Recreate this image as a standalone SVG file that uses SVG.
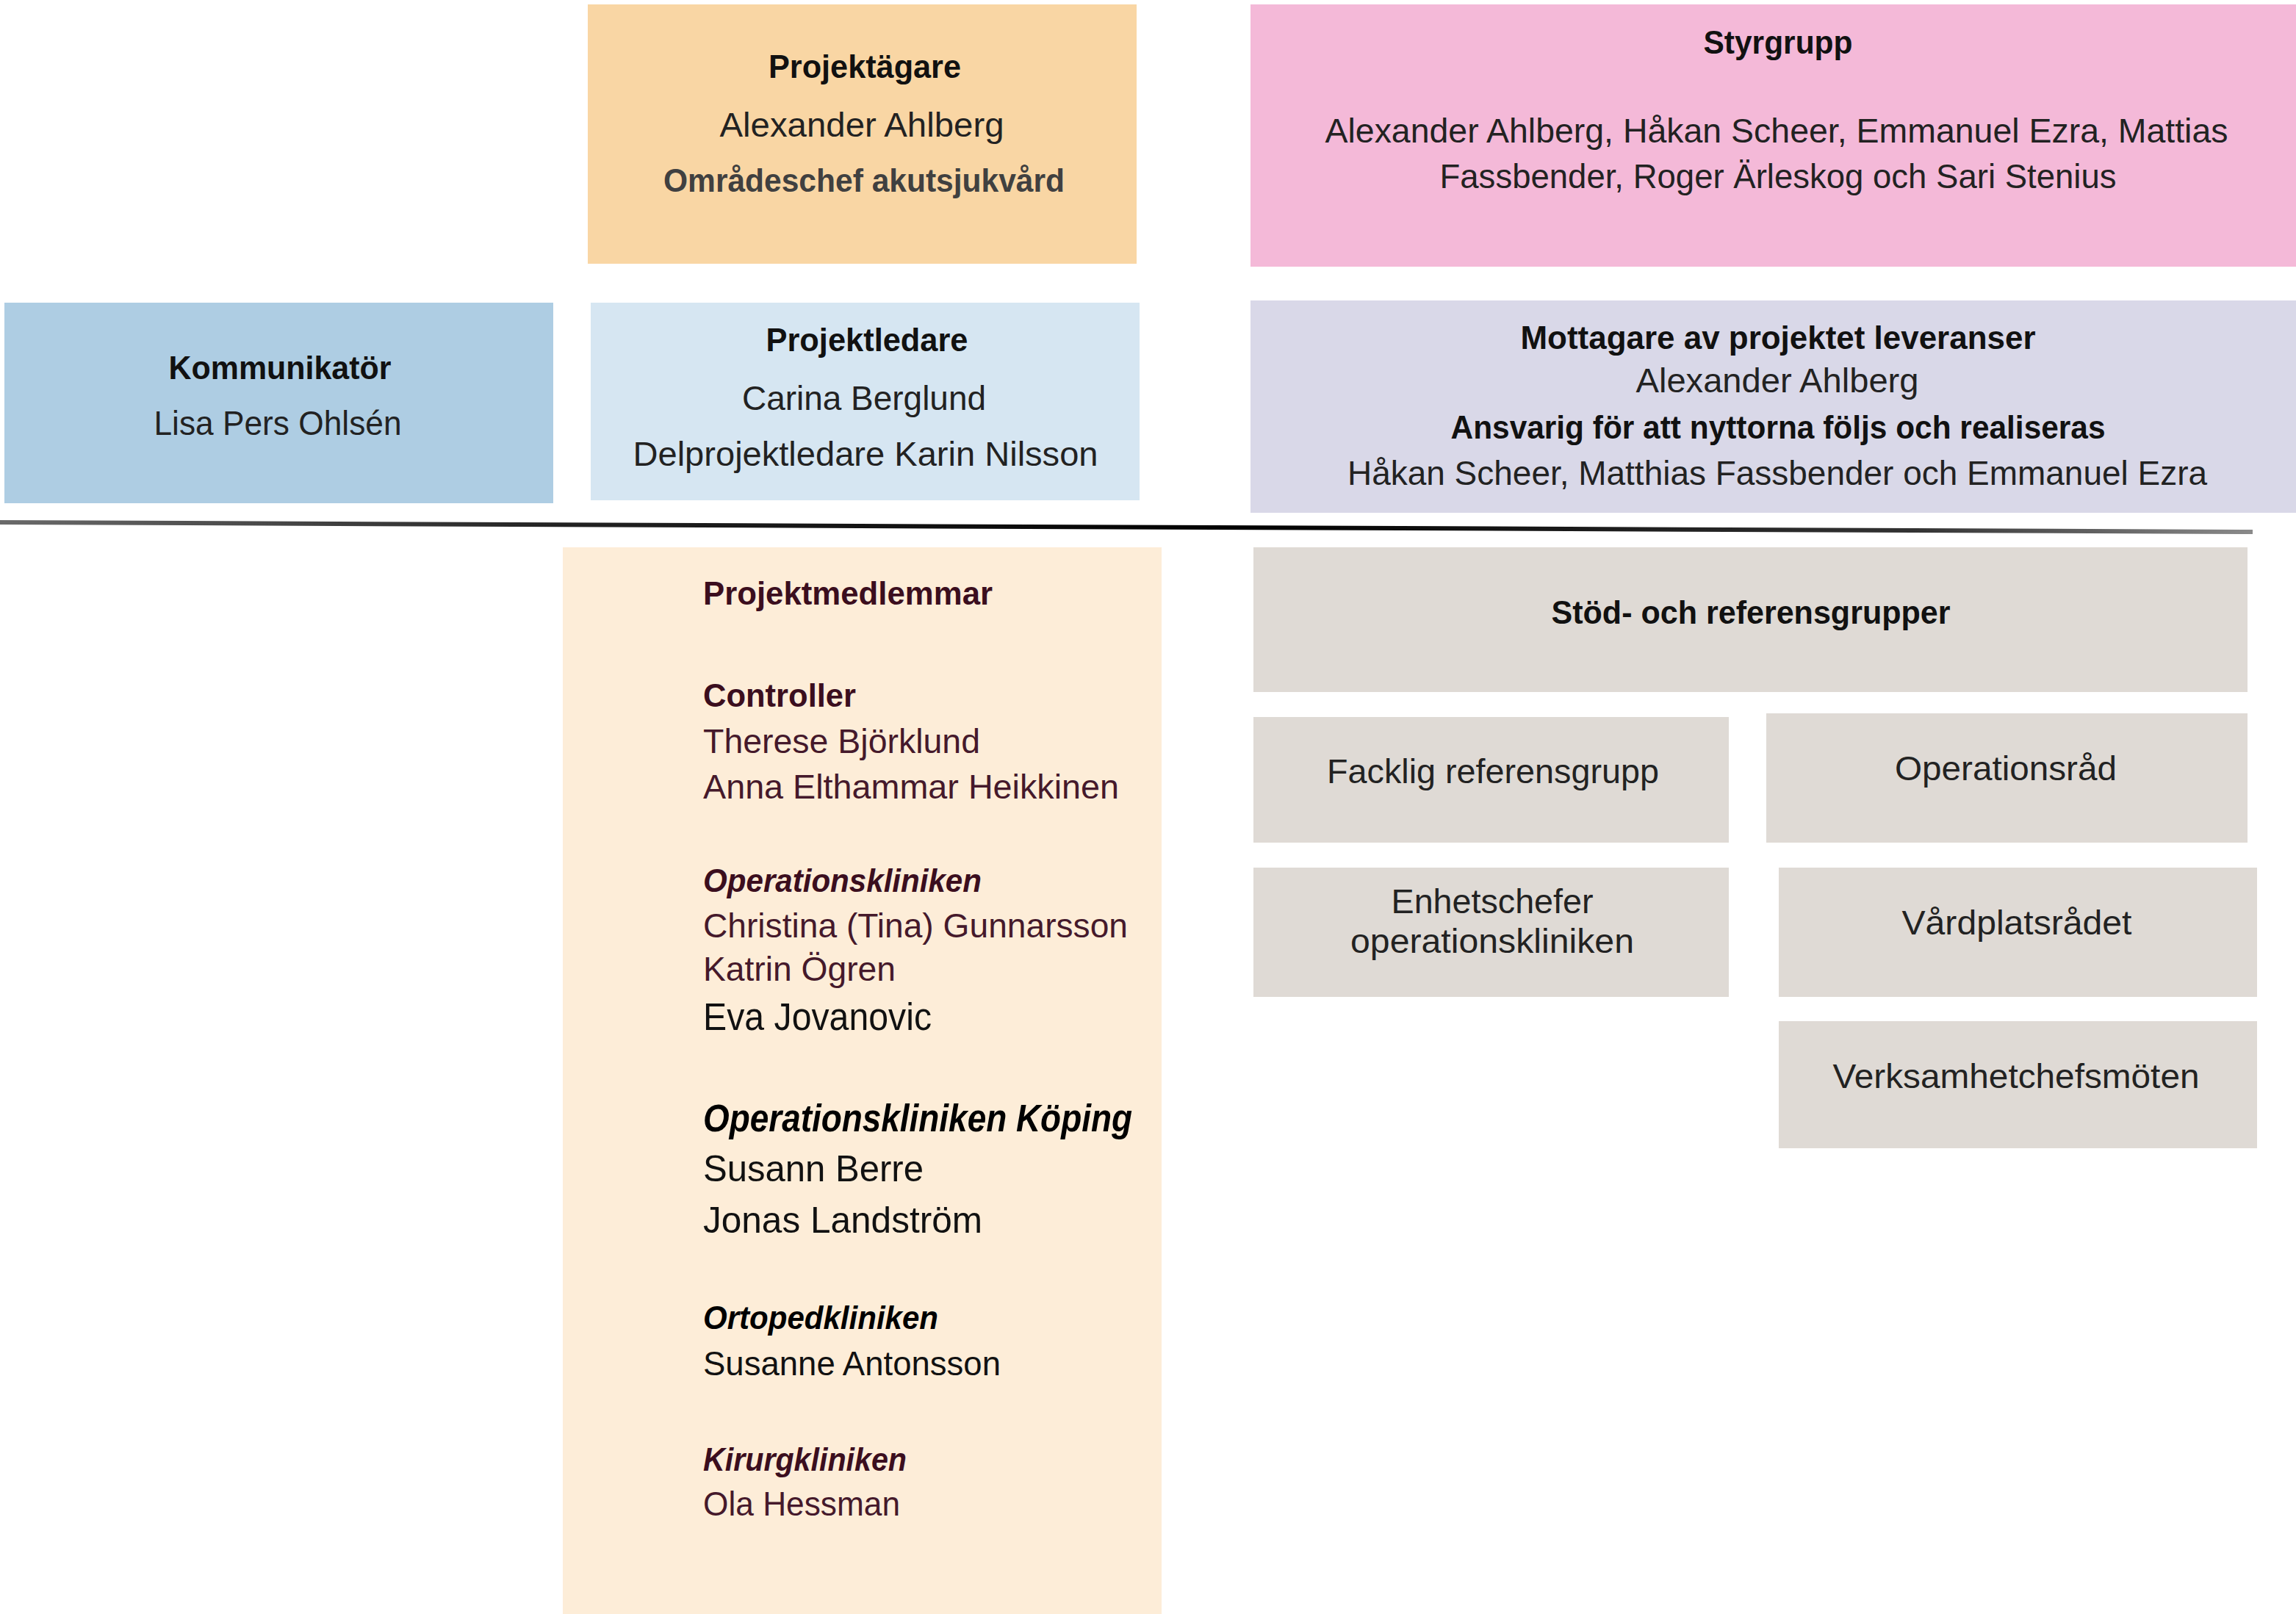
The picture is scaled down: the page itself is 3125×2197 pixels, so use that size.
<svg xmlns="http://www.w3.org/2000/svg" width="3125" height="2197" viewBox="0 0 3125 2197">
<defs>
<style>
text{font-family:"Liberation Sans",Arial,sans-serif;font-size:46px;fill:#222;}
.c{text-anchor:middle;}
.b{font-weight:bold;font-size:45px;fill:#111;}
.bi{font-weight:bold;font-style:italic;font-size:44px;}
.m{fill:#3B0E1E;}
.mr{fill:#45192B;}
.k{fill:#111;}
.gray{fill:#DFDAD5;}
</style>
<linearGradient id="lineGrad" x1="0" y1="0" x2="3066" y2="0" gradientUnits="userSpaceOnUse">
<stop offset="0" stop-color="#6a6a6a"/>
<stop offset="0.25" stop-color="#222"/>
<stop offset="0.55" stop-color="#000"/>
<stop offset="0.85" stop-color="#333"/>
<stop offset="1" stop-color="#8a8a8a"/>
</linearGradient>
</defs>
<rect width="3125" height="2197" fill="#fff"/>

<g id="separator">
<polygon points="0,708 3066,721 3066,727 0,714" fill="url(#lineGrad)"/>
</g>

<g id="projektagare">
<rect x="800" y="6" width="747" height="353" fill="#F9D6A4"/>
<text class="c b" x="1177" y="106" textLength="262" lengthAdjust="spacingAndGlyphs">Projektägare</text>
<text class="c" x="1173" y="186" textLength="387" lengthAdjust="spacingAndGlyphs">Alexander Ahlberg</text>
<text class="c b" x="1176" y="261" textLength="546" lengthAdjust="spacingAndGlyphs" style="fill:#404040">Områdeschef akutsjukvård</text>
</g>

<g id="styrgrupp">
<rect x="1702" y="6" width="1423" height="357" fill="#F4B9D8"/>
<text class="c b" x="2420" y="73" textLength="203" lengthAdjust="spacingAndGlyphs">Styrgrupp</text>
<text class="c" x="2418" y="194" textLength="1229" lengthAdjust="spacingAndGlyphs">Alexander Ahlberg, Håkan Scheer, Emmanuel Ezra, Mattias</text>
<text class="c" x="2420" y="256" textLength="921" lengthAdjust="spacingAndGlyphs">Fassbender, Roger Ärleskog och Sari Stenius</text>
</g>

<g id="kommunikator">
<rect x="6" y="412" width="747" height="273" fill="#AECDE3"/>
<text class="c b" x="381" y="516" textLength="303" lengthAdjust="spacingAndGlyphs">Kommunikatör</text>
<text class="c" x="378" y="592" textLength="337" lengthAdjust="spacingAndGlyphs">Lisa Pers Ohlsén</text>
</g>

<g id="projektledare">
<rect x="804" y="412" width="747" height="269" fill="#D6E6F2"/>
<text class="c b" x="1180" y="478" textLength="275" lengthAdjust="spacingAndGlyphs">Projektledare</text>
<text class="c" x="1176" y="558" textLength="332" lengthAdjust="spacingAndGlyphs">Carina Berglund</text>
<text class="c" x="1178" y="634" textLength="633" lengthAdjust="spacingAndGlyphs">Delprojektledare Karin Nilsson</text>
</g>

<g id="mottagare">
<rect x="1702" y="409" width="1423" height="289" fill="#D9D8E8"/>
<text class="c b" x="2420" y="475" textLength="701" lengthAdjust="spacingAndGlyphs">Mottagare av projektet leveranser</text>
<text class="c" x="2419" y="534" textLength="385" lengthAdjust="spacingAndGlyphs">Alexander Ahlberg</text>
<text class="c b" x="2420" y="597" textLength="891" lengthAdjust="spacingAndGlyphs">Ansvarig för att nyttorna följs och realiseras</text>
<text class="c" x="2419" y="660" textLength="1170" lengthAdjust="spacingAndGlyphs">Håkan Scheer, Matthias Fassbender och Emmanuel Ezra</text>
</g>

<g id="projektmedlemmar">
<rect x="766" y="745" width="815" height="1452" fill="#FDEDD8"/>
<text class="b m" x="957" y="823" font-size="44" textLength="394" lengthAdjust="spacingAndGlyphs" style="font-size:44px">Projektmedlemmar</text>
<text class="b m" x="957" y="962" textLength="208" lengthAdjust="spacingAndGlyphs" style="font-size:44px">Controller</text>
<text class="mr" x="957" y="1025" textLength="377" lengthAdjust="spacingAndGlyphs">Therese Björklund</text>
<text class="mr" x="957" y="1087" textLength="566" lengthAdjust="spacingAndGlyphs">Anna Elthammar Heikkinen</text>
<text class="bi m" x="957" y="1214" textLength="379" lengthAdjust="spacingAndGlyphs">Operationskliniken</text>
<text class="mr" x="957" y="1276" textLength="578" lengthAdjust="spacingAndGlyphs">Christina (Tina) Gunnarsson</text>
<text class="mr" x="957" y="1335" textLength="262" lengthAdjust="spacingAndGlyphs">Katrin Ögren</text>
<text class="k" x="957" y="1402" textLength="311" lengthAdjust="spacingAndGlyphs" style="font-size:51px">Eva Jovanovic</text>
<text class="bi" x="957" y="1540" textLength="584" lengthAdjust="spacingAndGlyphs" style="font-size:51px;fill:#000">Operationskliniken Köping</text>
<text class="k" x="957" y="1608" textLength="300" lengthAdjust="spacingAndGlyphs" style="font-size:50px">Susann Berre</text>
<text class="k" x="957" y="1678" textLength="380" lengthAdjust="spacingAndGlyphs" style="font-size:50px">Jonas Landström</text>
<text class="bi" x="957" y="1809" textLength="320" lengthAdjust="spacingAndGlyphs" style="fill:#000">Ortopedkliniken</text>
<text class="k" x="957" y="1872" textLength="405" lengthAdjust="spacingAndGlyphs">Susanne Antonsson</text>
<text class="bi m" x="957" y="2002" textLength="277" lengthAdjust="spacingAndGlyphs">Kirurgkliniken</text>
<text class="mr" x="957" y="2063" textLength="268" lengthAdjust="spacingAndGlyphs">Ola Hessman</text>
</g>

<g id="stod-och-referensgrupper">
<rect class="gray" x="1706" y="745" width="1353" height="197"/>
<text class="c b" x="2383" y="849" textLength="543" lengthAdjust="spacingAndGlyphs">Stöd- och referensgrupper</text>
</g>

<g id="facklig-referensgrupp">
<rect class="gray" x="1706" y="976" width="647" height="171"/>
<text class="c" x="2032" y="1066" textLength="452" lengthAdjust="spacingAndGlyphs">Facklig referensgrupp</text>
</g>

<g id="operationsrad">
<rect class="gray" x="2404" y="971" width="655" height="176"/>
<text class="c" x="2730" y="1062" textLength="302" lengthAdjust="spacingAndGlyphs">Operationsråd</text>
</g>

<g id="enhetschefer">
<rect class="gray" x="1706" y="1181" width="647" height="176"/>
<text class="c" x="2031" y="1243" textLength="275" lengthAdjust="spacingAndGlyphs">Enhetschefer</text>
<text class="c" x="2031" y="1297" textLength="386" lengthAdjust="spacingAndGlyphs">operationskliniken</text>
</g>

<g id="vardplatsradet">
<rect class="gray" x="2421" y="1181" width="651" height="176"/>
<text class="c" x="2745" y="1272" textLength="313" lengthAdjust="spacingAndGlyphs">Vårdplatsrådet</text>
</g>

<g id="verksamhetchefsmoten">
<rect class="gray" x="2421" y="1390" width="651" height="173"/>
<text class="c" x="2744" y="1481" textLength="499" lengthAdjust="spacingAndGlyphs">Verksamhetchefsmöten</text>
</g>
</svg>
